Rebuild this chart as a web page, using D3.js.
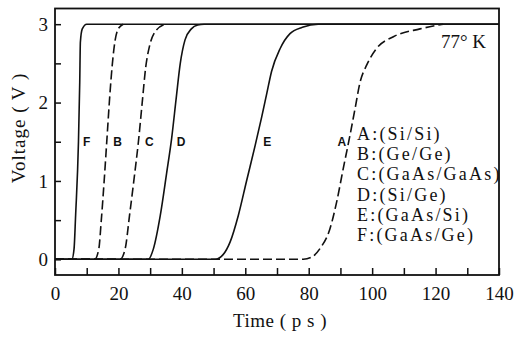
<!DOCTYPE html>
<html>
<head>
<meta charset="utf-8">
<script src="https://cdn.jsdelivr.net/npm/d3@7/dist/d3.min.js"></script>
<style>
body { margin: 0; background: #fff; }
svg text { font-family: "Liberation Serif", "DejaVu Serif", serif; fill: #111; }
svg text.tag { font-family: "Liberation Sans", Arial, sans-serif; font-weight: bold; font-size: 12px; }
</style>
</head>
<body>
<svg id="chart"></svg>
<script>
// curves: time (ps) and voltage (V)
var tF = [0, 5.3, 6.0, 6.5, 7.4, 7.8, 8.0, 8.6, 10, 140];
var vF = [0, 0, 0.13, 0.56, 1.5, 2.26, 2.77, 2.94, 3, 3];
var tB = [0, 12.5, 13.8, 14.6, 15.5, 16.4, 17.3, 18.1, 18.9, 19.8, 21.5];
var vB = [0, 0, 0.13, 0.5, 1.0, 1.55, 2.1, 2.5, 2.78, 2.93, 3];
var tC = [0, 20.5, 22.1, 23.5, 25, 26.3, 27.5, 28.6, 29.8, 31.5, 34.7];
var vC = [0, 0, 0.13, 0.56, 1.05, 1.5, 2.0, 2.45, 2.72, 2.9, 3];
var tD = [0, 29.4, 31, 33.2, 35.2, 36.8, 38.2, 39.5, 41, 43, 45, 47, 140];
var vD = [0, 0, 0.13, 0.56, 1.1, 1.55, 2.05, 2.5, 2.8, 2.94, 2.99, 3, 3];
var tE = [0, 50.5, 53, 55.2, 57.8, 60.4, 63.1, 65.2, 66.8, 68.3, 71, 74.1, 78, 83, 140];
var vE = [0, 0, 0.06, 0.22, 0.56, 1.0, 1.45, 1.82, 2.12, 2.4, 2.69, 2.88, 2.96, 3, 3];
var tA = [0, 78.3, 81, 83.6, 86.7, 88.8, 90.9, 93.0, 94.6, 96.2, 98.3, 101.4, 106.7, 115.1, 122.4];
var vA = [0, 0, 0.03, 0.14, 0.39, 0.73, 1.16, 1.58, 1.92, 2.26, 2.48, 2.69, 2.84, 2.94, 3];

var names = ["F", "B", "C", "D", "E", "A"];
var dashed = [false, true, true, false, false, true];
var tagX = [8.8, 18.4, 28.4, 38.4, 65.7, 89.1];
var legend = ["A:(Si/Si)", "B:(Ge/Ge)", "C:(GaAs/GaAs)", "D:(Si/Ge)", "E:(GaAs/Si)", "F:(GaAs/Ge)"];
var xTicks = d3.range(0, 141, 10);
var yTicks = d3.range(0, 3.01, 0.5);

var series = [[tF, vF], [tB, vB], [tC, vC], [tD, vD], [tE, vE], [tA, vA]];

var svg = d3.select("#chart")
    .attr("width", 518)
    .attr("height", 340);

var x = d3.scaleLinear().domain([0, 140]).range([55, 499]);
var y = d3.scaleLinear().domain([-0.2, 3.2]).range([275, 8.5]);

// x axis: ticks pointing inward, labels every 20
var xa = svg.append("g")
    .attr("transform", "translate(0,275)")
    .call(d3.axisBottom(x).tickValues(xTicks).tickSize(-7).tickPadding(12)
        .tickFormat(function(d) { return d % 20 == 0 ? d : ""; }));
xa.select(".domain").remove();
xa.selectAll("line").attr("stroke", "#111").attr("stroke-width", 1.5);
xa.selectAll("text").attr("font-size", 19).attr("fill", "#111");

var ya = svg.append("g")
    .attr("transform", "translate(55,0)")
    .call(d3.axisLeft(y).tickValues(yTicks).tickSize(-6).tickPadding(7)
        .tickFormat(function(d) { return d % 1 == 0 ? d : ""; }));
ya.select(".domain").remove();
ya.selectAll("line").attr("stroke", "#111").attr("stroke-width", 1.5);
ya.selectAll("text").attr("font-size", 19).attr("fill", "#111");

svg.append("rect")
    .attr("x", x(0)).attr("y", y(3.2))
    .attr("width", x(140) - x(0)).attr("height", y(-0.2) - y(3.2))
    .attr("fill", "none").attr("stroke", "#111").attr("stroke-width", 1.8);

var line = d3.line()
    .x(function(d) { return x(d[0]); })
    .y(function(d) { return y(d[1]); })
    .curve(d3.curveMonotoneX);

series.forEach(function(s, i) {
    var pts = s[0].map(function(t, j) { return [t, s[1][j]]; });
    svg.append("path")
        .attr("d", line(pts))
        .attr("fill", "none")
        .attr("stroke", "#111")
        .attr("stroke-width", 1.6)
        .attr("stroke-dasharray", dashed[i] ? "9,4" : null);
    svg.append("text")
        .attr("class", "tag")
        .attr("x", x(tagX[i]))
        .attr("y", y(1.5))
        .attr("dy", "0.36em")
        .text(names[i]);
});

svg.append("g").selectAll("text")
    .data(legend)
    .enter().append("text")
    .attr("x", 357)
    .attr("y", function(d, i) { return 140 + i * 20.2; })
    .attr("font-size", 18)
    .attr("letter-spacing", 2.2)
    .text(function(d) { return d; });

svg.append("text")
    .attr("x", 441).attr("y", 48)
    .attr("font-size", 19)
    .text("77° K");

svg.append("text")
    .attr("x", 280).attr("y", 327)
    .attr("text-anchor", "middle")
    .attr("font-size", 19)
    .attr("letter-spacing", 0.5)
    .text("Time ( p s )");

svg.append("text")
    .attr("transform", "translate(25,128) rotate(-90)")
    .attr("text-anchor", "middle")
    .attr("font-size", 19)
    .attr("letter-spacing", 1)
    .text("Voltage ( V )");
</script>
</body>
</html>
